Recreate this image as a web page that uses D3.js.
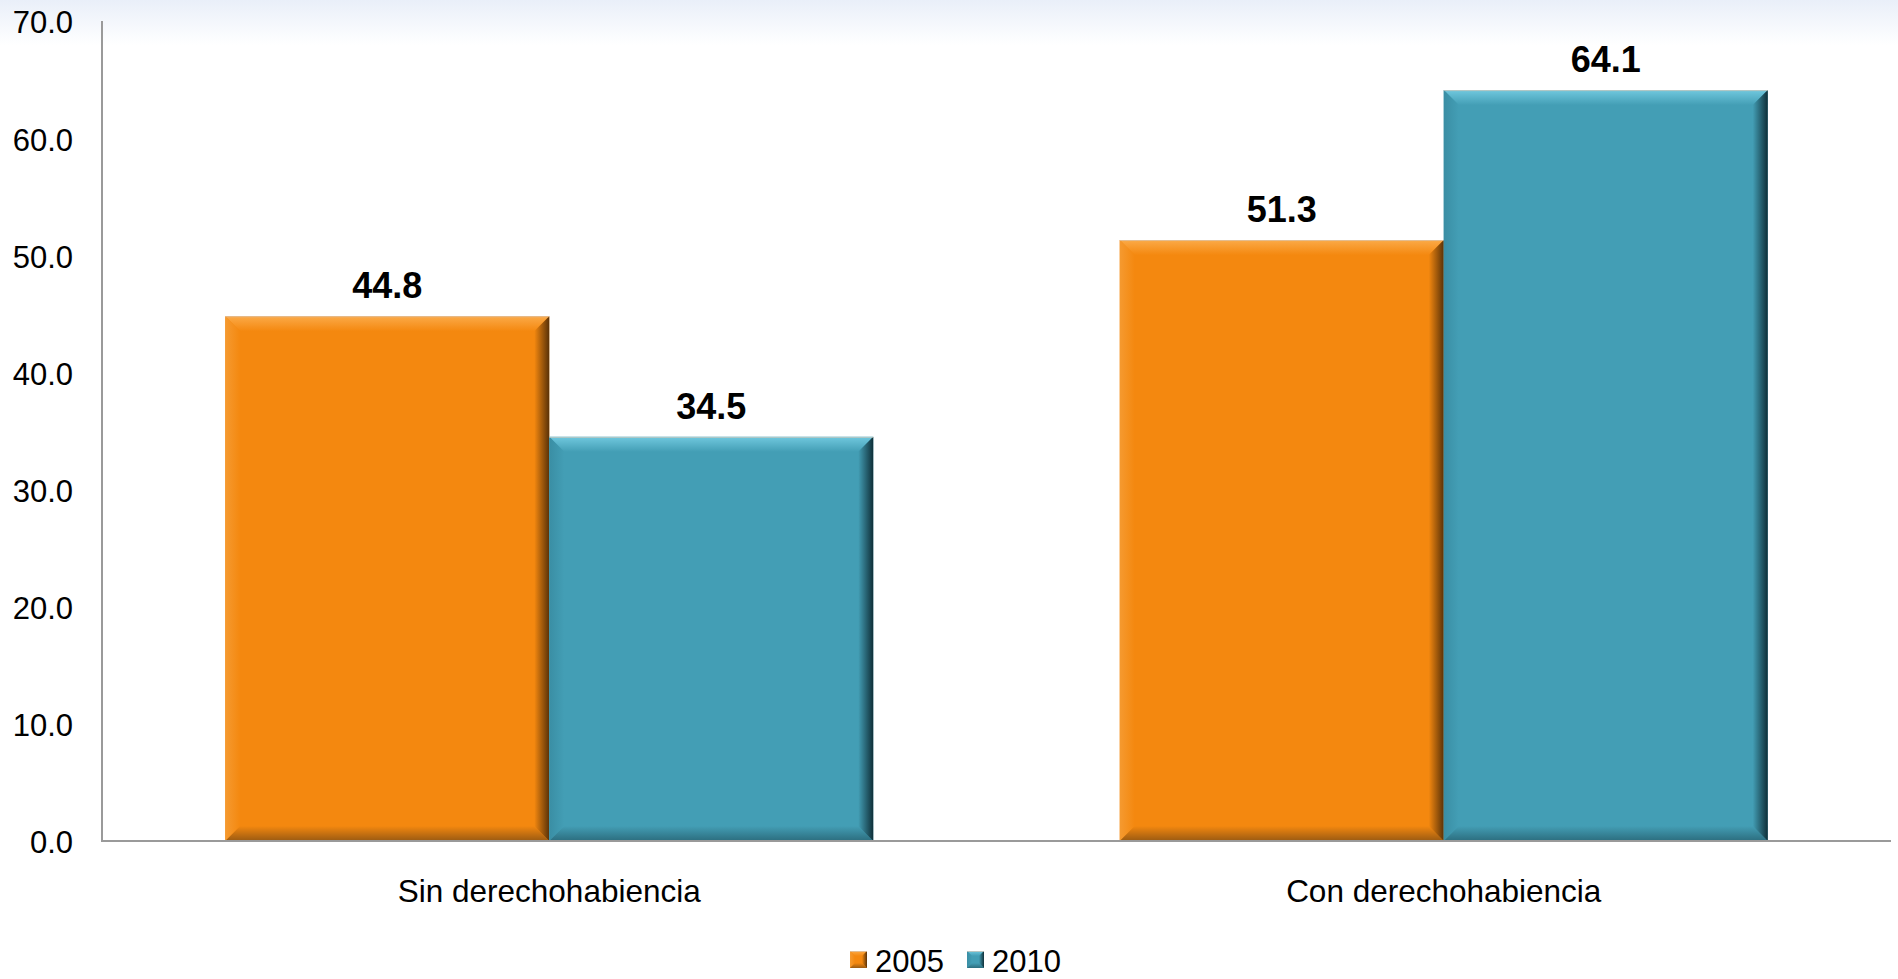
<!DOCTYPE html>
<html>
<head>
<meta charset="utf-8">
<script src="https://cdn.jsdelivr.net/npm/d3@7/dist/d3.min.js"></script>
<style>
html,body{margin:0;padding:0;background:#fff;}
svg{display:block;}
text{font-family:"Liberation Sans", Arial, sans-serif;fill:#000;}
</style>
</head>
<body>
<svg id="chart" width="1898" height="979"></svg>
<script>
const categories = ["Sin derechohabiencia", "Con derechohabiencia"];
const seriesNames = ["2005", "2010"];
const values2005 = [44.8, 51.3];
const values2010 = [34.5, 64.1];
const yTicks = [0, 10, 20, 30, 40, 50, 60, 70];

const W = 1898, H = 979;
const svg = d3.select("#chart");
const defs = svg.append("defs");

// top background gradient
const bg = defs.append("linearGradient").attr("id","bgGrad").attr("x1",0).attr("y1",0).attr("x2",0).attr("y2",1);
bg.append("stop").attr("offset","0%").attr("stop-color","#e9eff9");
bg.append("stop").attr("offset","100%").attr("stop-color","#ffffff");
svg.append("rect").attr("x",0).attr("y",0).attr("width",W).attr("height",45).attr("fill","url(#bgGrad)");

const palettes = {
  "2005": {main:"#f4880f", top:"#fbaa48", left:"#f59a30", right:"#5a3208", bottom:"#9a5a12"},
  "2010": {main:"#439eb5", top:"#70c8de", left:"#3a8ea4", right:"#0f2f38", bottom:"#2c6d7e"}
};

function grad(id, dir, c1, c2){
  const g = defs.append("linearGradient").attr("id", id);
  if (dir === "h") g.attr("x1",0).attr("y1",0).attr("x2",1).attr("y2",0);
  else g.attr("x1",0).attr("y1",0).attr("x2",0).attr("y2",1);
  g.append("stop").attr("offset","0%").attr("stop-color",c1);
  g.append("stop").attr("offset","100%").attr("stop-color",c2);
}
seriesNames.forEach(s => {
  const p = palettes[s];
  grad("top"+s, "v", p.top, p.main);
  grad("left"+s, "h", p.left, p.main);
  grad("right"+s, "h", p.main, p.right);
  grad("bottom"+s, "v", p.main, p.bottom);
});

const x0 = d3.scaleBand().domain(categories).range([102, 1891]).paddingInner(0.2756).paddingOuter(0.1378);
const x1 = d3.scaleBand().domain(seriesNames).range([0, x0.bandwidth()]);
const y = d3.scaleLinear().domain([0, 70]).range([841, 21]);

const data = [];
categories.forEach((c, i) => {
  data.push({cat:c, s:"2005", v:values2005[i]});
  data.push({cat:c, s:"2010", v:values2010[i]});
});

function bevelBar(g, x, yTop, w, h, s, b){
  g.append("rect").attr("x",x).attr("y",yTop).attr("width",w).attr("height",h).attr("fill",palettes[s].main);
  const pts = a => a.map(p => p.join(",")).join(" ");
  g.append("polygon").attr("points", pts([[x,yTop],[x+w,yTop],[x+w-b,yTop+b],[x+b,yTop+b]])).attr("fill","url(#top"+s+")");
  g.append("polygon").attr("points", pts([[x,yTop],[x+b,yTop+b],[x+b,yTop+h-b],[x,yTop+h]])).attr("fill","url(#left"+s+")");
  g.append("polygon").attr("points", pts([[x,yTop+h],[x+b,yTop+h-b],[x+w-b,yTop+h-b],[x+w,yTop+h]])).attr("fill","url(#bottom"+s+")");
  g.append("polygon").attr("points", pts([[x+w,yTop],[x+w,yTop+h],[x+w-b,yTop+h-b],[x+w-b,yTop+b]])).attr("fill","url(#right"+s+")");
  g.append("line").attr("x1",x).attr("x2",x+w).attr("y1",yTop+0.5).attr("y2",yTop+0.5).attr("stroke","#d8c8b8").attr("stroke-opacity",0.7).attr("stroke-width",1);
}

const bars = svg.append("g");
data.forEach(d => {
  const bx = x0(d.cat) + x1(d.s);
  const by = y(d.v);
  bevelBar(bars, bx, by, x1.bandwidth(), y(0) - by, d.s, 15);
  svg.append("text")
    .attr("x", bx + x1.bandwidth()/2)
    .attr("y", by - 18)
    .attr("text-anchor","middle")
    .style("font-size","36px")
    .style("font-weight","bold")
    .text(d.v.toFixed(1));
});

// axes
const axisColor = "#9a9a9a";
svg.append("line").attr("x1",102).attr("x2",102).attr("y1",y(70)).attr("y2",y(0)+1).attr("stroke",axisColor).attr("stroke-width",2);
svg.append("line").attr("x1",101).attr("x2",1891).attr("y1",y(0)).attr("y2",y(0)).attr("stroke",axisColor).attr("stroke-width",2);

svg.append("g").selectAll("text").data(yTicks).join("text")
  .attr("x", 73)
  .attr("y", d => y(d))
  .attr("dy","0.4em")
  .attr("text-anchor","end")
  .style("font-size","31px")
  .text(d => d.toFixed(1));

svg.append("g").selectAll("text").data(categories).join("text")
  .attr("x", d => x0(d) + x0.bandwidth()/2)
  .attr("y", 902)
  .attr("text-anchor","middle")
  .style("font-size","31.5px")
  .text(d => d);

// legend
const legendX = [850, 967];
seriesNames.forEach((s, i) => {
  const lg = svg.append("g");
  bevelBar(lg, legendX[i], 951, 17, 17, s, 5);
  svg.append("text").attr("x", legendX[i] + 25).attr("y", 972)
    .style("font-size","31px").text(s);
});
</script>
</body>
</html>
